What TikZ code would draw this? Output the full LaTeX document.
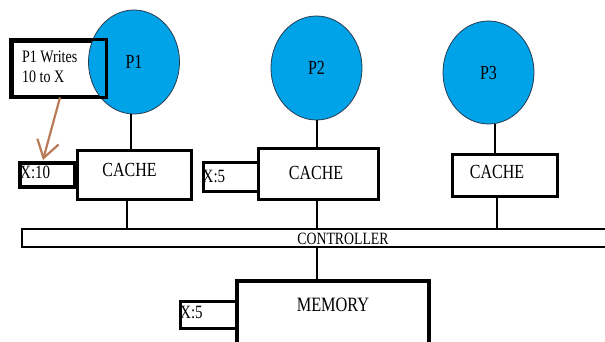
\documentclass[tikz,border=0pt]{standalone}
\usepackage{fontspec}
\setmainfont{Liberation Serif}
\usetikzlibrary{positioning,shapes.geometric,arrows.meta}
\definecolor{procblue}{RGB}{0,162,232}
\definecolor{procrim}{RGB}{40,60,80}
\definecolor{notebrown}{RGB}{185,122,87}
\newcommand\tall[1]{\scalebox{1}[1.25]{#1}}
\tikzset{
  procnode/.style={ellipse, draw=procrim, fill=procblue, line width=0.8pt,
    minimum width=91pt, minimum height=104pt, inner sep=0pt, font=\fontsize{16}{18}\selectfont},
  boxnode/.style={draw, line width=3pt, inner sep=0pt},
  valnode/.style={draw, line width=3pt, inner sep=0pt},
  lbl/.style={inner sep=0pt, font=\fontsize{16}{18}\selectfont},
  wire/.style={line width=2pt}
}
\begin{document}
\begin{tikzpicture}[x=1pt, y=-1pt]
\useasboundingbox (0,0) rectangle (605,341);
\clip (0,0) rectangle (605,341);
% note box first, processors on top of it
\node[boxnode, minimum width=93pt, minimum height=55pt] (note) at (58.5,68.5) {};
\node[procnode] (P1) at (134,62) {\tall{P1}};
\node[procnode] (P2) at (316.5,68) {\tall{P2}};
\node[procnode, minimum height=103pt] (P3) at (488.5,72.5) {\tall{P3}};
\draw[line width=3pt] (note.south west) rectangle (note.north east);
\node[inner sep=0pt, anchor=west, font=\fontsize{14}{16}\selectfont] (notetxt1) at (22,57) {\tall{P1 Writes}};
\node[inner sep=0pt, anchor=west, font=\fontsize{14}{16}\selectfont] (notetxt2) at (22,77) {\tall{10 to X}};
% value boxes
\node[valnode, line width=4pt, minimum width=55pt, minimum height=24pt] (x1) at (47.5,175) {};
\node[valnode, minimum width=55pt, minimum height=29pt] (x2) at (230.5,176.5) {};
\node[valnode, minimum width=57pt, minimum height=27pt] (xm) at (208.5,314.5) {};
\node[lbl, font=\fontsize{15}{16}\selectfont, anchor=west] at ([xshift=2pt,yshift=3pt]x1.west) {\tall{X:10}};
\node[lbl, font=\fontsize{15}{16}\selectfont, anchor=west] at ([xshift=1pt]x2.west) {\tall{X:5}};
\node[lbl, font=\fontsize{15}{16}\selectfont, anchor=west] at ([xshift=1.5pt,yshift=2pt]xm.west) {\tall{X:5}};
% caches
\node[boxnode, fill=white, minimum width=114pt, minimum height=49pt] (cache1) at (134,174.5) {};
\node[boxnode, fill=white, minimum width=120pt, minimum height=51pt] (cache2) at (318,173.5) {};
\node[boxnode, fill=white, minimum width=105pt, minimum height=42pt] (cache3) at (504.5,175) {};
\node[lbl] at (129.5,170) {\tall{CACHE}};
\node[lbl] at (316,173) {\tall{CACHE}};
\node[lbl] at (497,172) {\tall{CACHE}};
% controller bus and memory
\node[boxnode, line width=2.5pt, minimum width=598pt, minimum height=18pt] (bus) at (321,238) {};
\node[lbl, font=\fontsize{13.8}{15}\selectfont] at (343,239) {\tall{CONTROLLER}};
\node[boxnode, fill=white, line width=3.5pt, minimum width=192pt, minimum height=90pt] (mem) at (333,326) {};
\node[lbl, font=\fontsize{16.3}{18}\selectfont] at (333,305) {\tall{MEMORY}};
% wires
\draw[wire] ([xshift=-3pt]P1.south) -- ([xshift=-3pt]P1.south |- cache1.north);
\draw[wire] ([xshift=-7pt]cache1.south) -- ([xshift=-7pt]cache1.south |- bus.north);
\draw[wire] ([xshift=0.5pt]P2.south) -- ([xshift=0.5pt]P2.south |- cache2.north);
\draw[wire] ([xshift=-1pt]cache2.south) -- ([xshift=-1pt]cache2.south |- bus.north);
\draw[wire] ([xshift=6pt]P3.south) -- ([xshift=6pt]P3.south |- cache3.north);
\draw[wire] ([xshift=-8pt]cache3.south) -- ([xshift=-8pt]cache3.south |- bus.north);
\draw[wire] ([xshift=-4pt]bus.south) -- ([xshift=-4pt]bus.south |- mem.north);
% note arrow
\draw[notebrown, line width=2.2pt, -{Straight Barb[length=17pt, width=22pt, line width=2.2pt]}]
  ([xshift=1.5pt]note.south) -- ([xshift=-4.5pt, yshift=1pt]x1.north);
\end{tikzpicture}
\end{document}
